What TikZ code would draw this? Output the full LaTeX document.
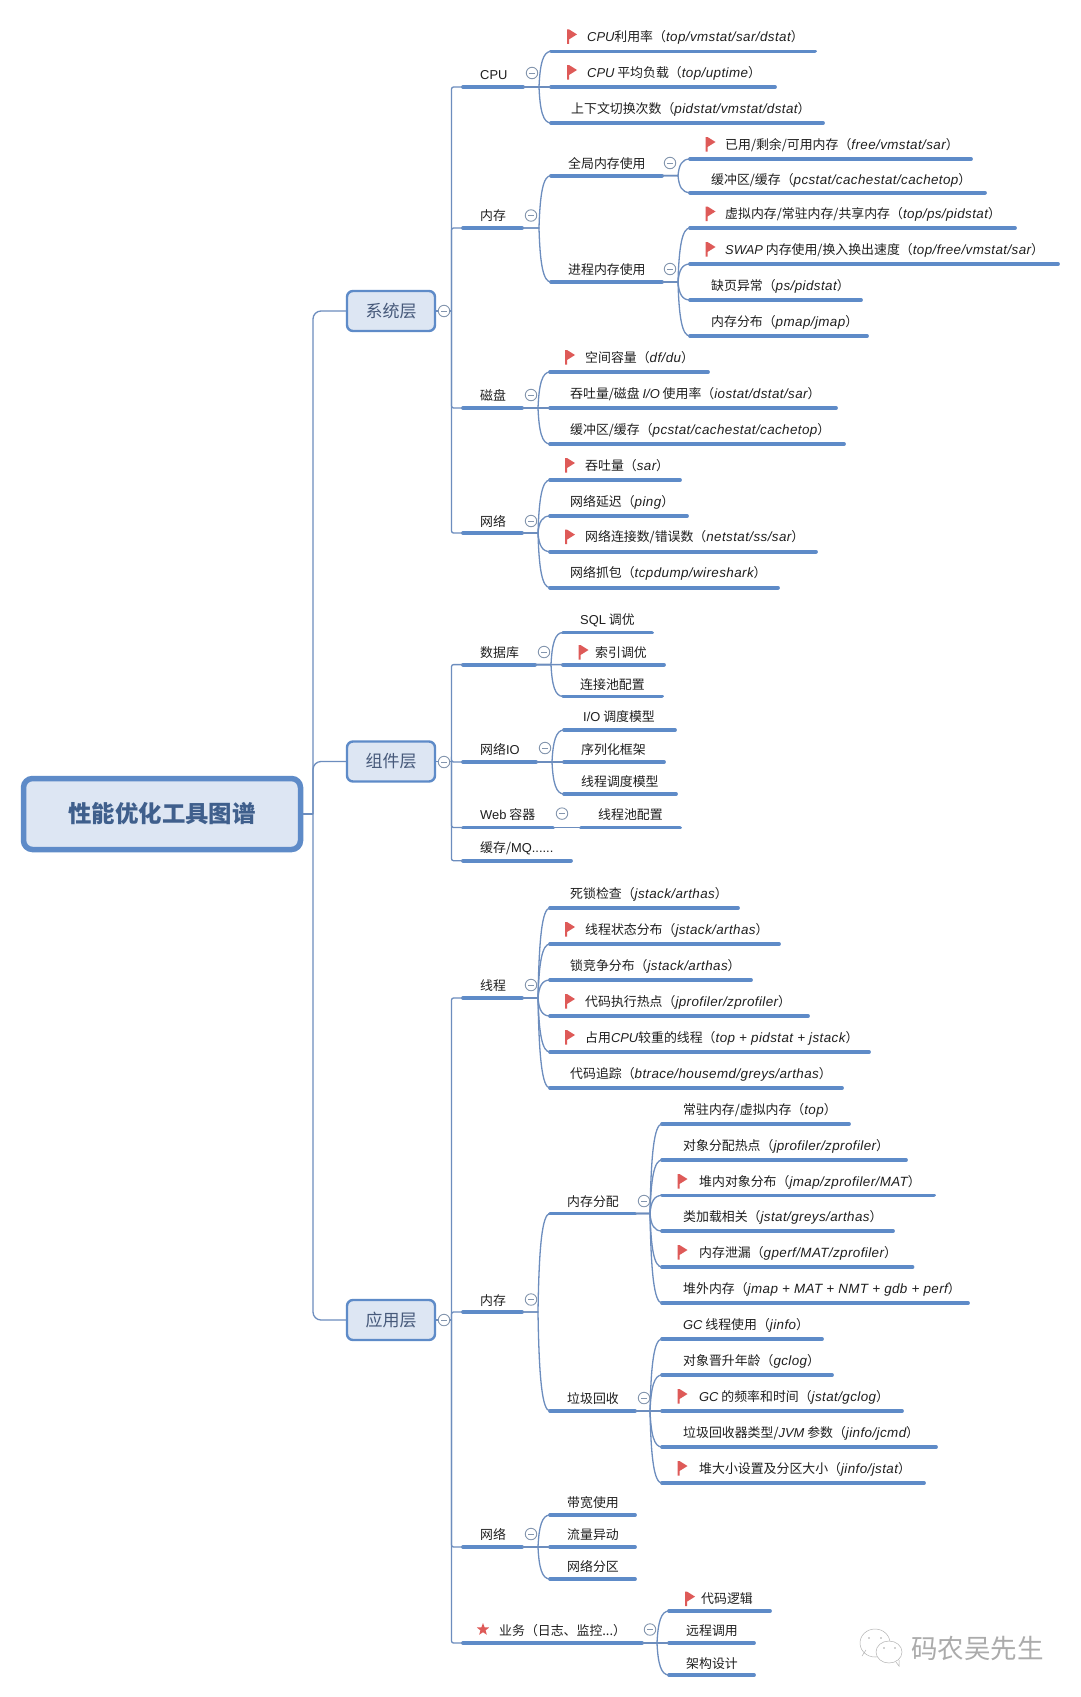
\documentclass[tikz,border=0pt]{standalone}
\usepackage{fontspec}
\usetikzlibrary{shapes.geometric,calc}
\setmainfont{Noto Sans CJK SC}
\newfontfamily\latf{Liberation Sans}
\newfontfamily\toolf{Liberation Sans}[Scale=1.04,LetterSpace=3]
\newcommand\lt[1]{{\toolf\itshape #1}}
\newcommand\lc[1]{{\latf\itshape #1}}
\newcommand\lu[1]{{\latf #1}}
\newcommand\tl[2]{#1（\lt{#2}）}
\definecolor{bar}{HTML}{5E8BC8}
\definecolor{wire}{HTML}{6C8DBE}
\definecolor{boxfill}{HTML}{DDE6F3}
\definecolor{boxtext}{HTML}{46597A}
\definecolor{roottext}{HTML}{3F5F8C}
\definecolor{red1}{HTML}{DE5A58}
\definecolor{foldc}{HTML}{8496AE}
\tikzset{
  x=1pt,y=-1pt,
  under/.style={draw=bar,line width=3.8pt,line cap=round},
  conn/.style={draw=wire,line width=1.3pt},
  lbl/.style={anchor=base west,inner sep=0pt,font=\fontsize{12.9}{15}\selectfont,text=black!88},
  tier/.style={draw=bar,line width=2.4pt,rounded corners=6pt,fill=boxfill,inner sep=0pt,minimum width=88pt,minimum height=40pt,font=\fontsize{17}{20}\selectfont,text=boxtext},
  rootbox/.style={draw=bar,line width=5.5pt,rounded corners=9pt,fill=boxfill,inner sep=0pt,minimum width=277pt,minimum height=71pt,font=\fontsize{23.4}{28}\selectfont\bfseries,text=roottext},
  fold/.style={circle,draw=foldc,line width=.9pt,fill=white,minimum size=11.5pt,inner sep=0pt,path picture={\draw[draw=foldc,line width=.9pt] ([xshift=-3pt]path picture bounding box.center) -- ([xshift=3pt]path picture bounding box.center);}},
  pennant/.pic={
    \fill[red1] (-.8,-7) -- (1,-7) -- (9,-2) -- (1,3) -- (1,7.5) -- (-.8,7.5) -- cycle;
  },
  wm/.style={draw=black!30,line width=.5pt,fill=white},
}
\newcommand\topic[7]{%
  \coordinate (#1-a) at (#2,#4);
  \coordinate (#1-b) at (#3,#4);
  \draw[under] (#1-a) -- (#1-b);
  \node[lbl] (#1) at (#5,{#6+5.1}) {#7};
}
\newcommand\flg[2]{\pic at (#1,#2) {pennant};}
\newcommand\link[2]{%
  \draw[conn] let \p1=(#1-b),\p2=(#2-a) in
    (#1-b) -- (\x2-12pt,\y1)
    .. controls ({\x2-11pt},{0.35*\y1+0.65*\y2}) and ({\x2-8pt},\y2) .. (#2-a);
}
\begin{document}
\begin{tikzpicture}
\useasboundingbox[fill=white] (0,0) rectangle (1080,1697);

% level 3 and 4 topics: system
\topic{cpu}{463}{523}{87}{480}{74}{\lu{CPU}}
\topic{cpua}{551}{815}{51.4}{587}{36.4}{\lc{CPU}利用率（\lt{top/vmstat/sar/dstat}）}
\topic{cpub}{551}{775}{87}{587}{72}{\lc{CPU} 平均负载（\lt{top/uptime}）}
\topic{cpuc}{551}{823}{123}{571}{108}{\tl{上下文切换次数}{pidstat/vmstat/dstat}}
\flg{568}{36.4}\flg{568}{72}

\topic{mem}{463}{522}{228}{480}{215}{内存}
\topic{gmem}{551}{662}{175.6}{568}{163}{全局内存使用}
\topic{gmema}{690}{971}{159}{725}{144}{已用/剩余/可用内存（\lt{free/vmstat/sar}）}
\topic{gmemb}{690}{985}{192.6}{711}{179}{缓冲区/缓存（\lt{pcstat/cachestat/cachetop}）}
\topic{pmem}{551}{662}{282}{568}{269}{进程内存使用}
\topic{pmema}{690}{1015}{228}{725}{213.5}{虚拟内存/常驻内存/共享内存（\lt{top/ps/pidstat}）}
\topic{pmemb}{690}{1058}{264}{725}{249}{\lc{SWAP} 内存使用/换入换出速度（\lt{top/free/vmstat/sar}）}
\topic{pmemc}{690}{861}{300}{711}{285.5}{\tl{缺页异常}{ps/pidstat}}
\topic{pmemd}{690}{867}{336}{711}{321}{\tl{内存分布}{pmap/jmap}}
\flg{706.5}{144}\flg{706.5}{213.5}\flg{706.5}{249}

\topic{disk}{463}{522}{408}{480}{395}{磁盘}
\topic{diska}{550}{708}{372}{585}{357}{\tl{空间容量}{df/du}}
\topic{diskb}{550}{836}{408}{570}{393}{吞吐量/磁盘 \lc{I/O} 使用率（\lt{iostat/dstat/sar}）}
\topic{diskc}{550}{844}{444}{570}{429}{缓冲区/缓存（\lt{pcstat/cachestat/cachetop}）}
\flg{566}{357}

\topic{net}{463}{522}{533}{480}{521}{网络}
\topic{neta}{550}{680}{480}{585}{465}{\tl{吞吐量}{sar}}
\topic{netb}{550}{687}{516}{570}{501}{\tl{网络延迟}{ping}}
\topic{netc}{550}{816}{551.6}{585}{536.6}{网络连接数/错误数（\lt{netstat/ss/sar}）}
\topic{netd}{550}{778}{587.6}{570}{572.6}{\tl{网络抓包}{tcpdump/wireshark}}
\flg{566}{465}\flg{566}{536.6}

% component
\topic{db}{463}{535}{664.6}{480}{652}{数据库}
\topic{dba}{563}{652}{632.5}{580}{619}{\lu{SQL} 调优}
\topic{dbb}{563}{664}{664.6}{595}{652}{索引调优}
\topic{dbc}{563}{662}{696.4}{580}{684}{连接池配置}
\flg{579.5}{652}

\topic{nio}{463}{536}{762}{480}{749}{网络\lu{IO}}
\topic{nioa}{564}{675}{730}{583}{716}{\lu{I/O} 调度模型}
\topic{niob}{564}{664}{762}{581}{749}{序列化框架}
\topic{nioc}{564}{676}{794}{581}{781}{线程调度模型}

\topic{web}{463}{553}{827.5}{480}{814}{\lu{Web} 容器}
\topic{weba}{581}{680}{827.5}{598}{814.6}{线程池配置}
\topic{cache}{463}{571}{860.7}{480}{847.5}{缓存/\lu{MQ......}}

% application
\topic{thr}{463}{522}{998}{480}{985}{线程}
\topic{thra}{550}{738}{908}{570}{893.6}{\tl{死锁检查}{jstack/arthas}}
\topic{thrb}{550}{779}{944}{585}{929}{\tl{线程状态分布}{jstack/arthas}}
\topic{thrc}{550}{751}{980}{570}{965}{\tl{锁竞争分布}{jstack/arthas}}
\topic{thrd}{550}{808}{1016}{585}{1001}{\tl{代码执行热点}{jprofiler/zprofiler}}
\topic{thre}{550}{869}{1052}{585}{1037}{占用\lc{CPU}较重的线程（\lt{top + pidstat + jstack}）}
\topic{thrf}{550}{842}{1088}{570}{1073}{\tl{代码追踪}{btrace/housemd/greys/arthas}}
\flg{566}{929}\flg{566}{1001}\flg{566}{1037}

\topic{amem}{463}{522}{1312}{480}{1300}{内存}
\topic{alloc}{550}{635}{1213.5}{567}{1201}{内存分配}
\topic{alloca}{662}{849}{1124}{683}{1109}{\tl{常驻内存/虚拟内存}{top}}
\topic{allocb}{662}{906}{1160}{683}{1145}{\tl{对象分配热点}{jprofiler/zprofiler}}
\topic{allocc}{662}{934}{1195.4}{699}{1181}{\tl{堆内对象分布}{jmap/zprofiler/MAT}}
\topic{allocd}{662}{893}{1231}{683}{1216}{\tl{类加载相关}{jstat/greys/arthas}}
\topic{alloce}{662}{912.5}{1267}{699}{1252}{\tl{内存泄漏}{gperf/MAT/zprofiler}}
\topic{allocf}{662}{968}{1303}{683}{1288.5}{\tl{堆外内存}{jmap + MAT + NMT + gdb + perf}}
\flg{678.5}{1181}\flg{678.5}{1252}

\topic{gc}{550}{635}{1411}{567}{1398}{垃圾回收}
\topic{gca}{662}{822}{1339}{683}{1324}{\lc{GC} 线程使用（\lt{jinfo}）}
\topic{gcb}{662}{832}{1375}{683}{1360}{\tl{对象晋升年龄}{gclog}}
\topic{gcc}{662}{902}{1411}{699}{1396}{\lc{GC} 的频率和时间（\lt{jstat/gclog}）}
\topic{gcd}{662}{936}{1447}{683}{1432}{垃圾回收器类型/\lc{JVM} 参数（\lt{jinfo/jcmd}）}
\topic{gce}{662}{924}{1483}{699}{1468}{\tl{堆大小设置及分区大小}{jinfo/jstat}}
\flg{678.5}{1396}\flg{678.5}{1468}

\topic{anet}{463}{522}{1547}{480}{1534}{网络}
\topic{aneta}{550}{635}{1515}{567}{1502}{带宽使用}
\topic{anetb}{550}{635}{1547}{567}{1534.6}{流量异动}
\topic{anetc}{550}{635}{1579}{567}{1566}{网络分区}

\topic{biz}{463}{642}{1643}{499}{1630}{业务（日志、监控...）}
\topic{biza}{669}{770}{1611}{701}{1598.6}{代码逻辑}
\topic{bizb}{669}{754}{1643}{686}{1630.6}{远程调用}
\topic{bizc}{669}{754}{1675}{686}{1663}{架构设计}
\flg{686}{1598.6}
\node[star,star points=5,star point ratio=2.4,fill=red1,inner sep=0pt,minimum size=13pt] (bizstar) at (483,1629.5) {};

% boxes
\node[rootbox] (root) at (162,814) {\raisebox{-1pt}{性能优化工具图谱}};
\node[tier] (sys) at (391,311) {\raisebox{-.8pt}{系统层}};
\node[tier] (comp) at (391,761.5) {\raisebox{-.8pt}{组件层}};
\node[tier] (app) at (391,1320) {\raisebox{-.8pt}{应用层}};

% connectors
\coordinate (trunk) at (313,814);
\draw[conn] (root.east) -- (trunk);
\draw[conn,rounded corners=8pt] (trunk) |- (sys.west);
\draw[conn,rounded corners=8pt] (trunk) |- (comp.west);
\draw[conn,rounded corners=8pt] (trunk) |- (app.west);

\coordinate (sysstem) at (451.5,311);
\coordinate (compstem) at (451.5,761.5);
\coordinate (appstem) at (451.5,1320);
\draw[conn] (sys.east) -- (sysstem);
\draw[conn] (comp.east) -- (compstem);
\draw[conn] (app.east) -- (appstem);
\foreach \k in {cpu,mem,disk,net} {\draw[conn,rounded corners=2pt] (sysstem) |- (\k-a);}
\foreach \k in {db,nio,web,cache} {\draw[conn,rounded corners=2pt] (compstem) |- (\k-a);}
\foreach \k in {thr,amem,anet,biz} {\draw[conn,rounded corners=2pt] (appstem) |- (\k-a);}

\foreach \kid in {cpua,cpub,cpuc} {\link{cpu}{\kid}}
\foreach \kid in {gmem,pmem} {\link{mem}{\kid}}
\foreach \kid in {gmema,gmemb} {\link{gmem}{\kid}}
\foreach \kid in {pmema,pmemb,pmemc,pmemd} {\link{pmem}{\kid}}
\foreach \kid in {diska,diskb,diskc} {\link{disk}{\kid}}
\foreach \kid in {neta,netb,netc,netd} {\link{net}{\kid}}
\foreach \kid in {dba,dbb,dbc} {\link{db}{\kid}}
\foreach \kid in {nioa,niob,nioc} {\link{nio}{\kid}}
\draw[conn] (web-b) -- (weba-a);
\foreach \kid in {thra,thrb,thrc,thrd,thre,thrf} {\link{thr}{\kid}}
\foreach \kid in {alloc,gc} {\link{amem}{\kid}}
\foreach \kid in {alloca,allocb,allocc,allocd,alloce,allocf} {\link{alloc}{\kid}}
\foreach \kid in {gca,gcb,gcc,gcd,gce} {\link{gc}{\kid}}
\foreach \kid in {aneta,anetb,anetc} {\link{anet}{\kid}}
\foreach \kid in {biza,bizb,bizc} {\link{biz}{\kid}}

% fold markers
\node[fold] (f1) at (444,311) {};
\node[fold] (f2) at (444,762) {};
\node[fold] (f3) at (444,1320) {};
\node[fold] (f4) at (532,73) {};
\node[fold] (f5) at (531,215.5) {};
\node[fold] (f6) at (670,163) {};
\node[fold] (f7) at (670,269) {};
\node[fold] (f8) at (531,395) {};
\node[fold] (f9) at (531,521) {};
\node[fold] (f10) at (544,652) {};
\node[fold] (f11) at (545,748) {};
\node[fold] (f12) at (562,813.6) {};
\node[fold] (f13) at (531,985) {};
\node[fold] (f14) at (531,1299.5) {};
\node[fold] (f15) at (644,1201) {};
\node[fold] (f16) at (644,1398) {};
\node[fold] (f17) at (531,1534) {};
\node[fold] (f18) at (650,1629.5) {};

% watermark
\draw[wm] (862,1656) -- (866,1650) (875,1643) ellipse [x radius=15,y radius=14];
\fill[black!35] (869,1638) circle (.9) (881,1638) circle (.9);
\draw[wm] (889,1652) ellipse [x radius=13,y radius=11];
\draw[wm] (896,1662) -- (899,1666) -- (899,1660);
\fill[black!35] (884,1648) circle (.9) (895,1648) circle (.9);
\node[anchor=west,inner sep=0pt,font=\fontsize{26.5}{30}\selectfont,text=black!33] (wmtext) at (911,1648) {码农吴先生};
\end{tikzpicture}
\end{document}
